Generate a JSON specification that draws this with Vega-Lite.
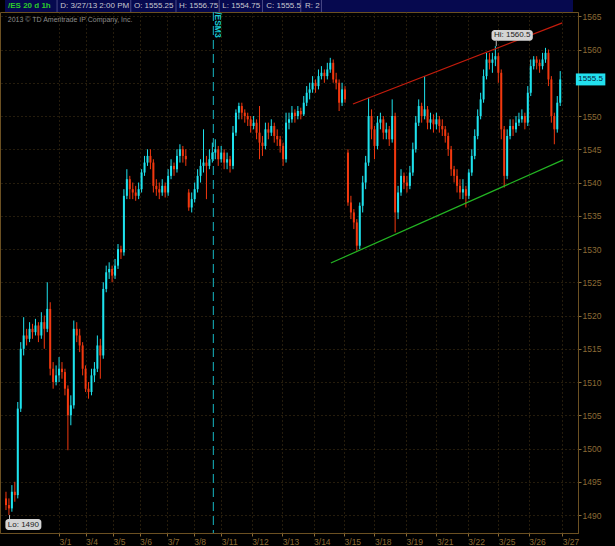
{
  "$schema": "https://vega.github.io/schema/vega-lite/v6.json",
  "width": 578,
  "height": 521,
  "autosize": {"type": "none"},
  "padding": {"left": 0, "top": 12, "right": 37, "bottom": 13},
  "background": "#000000",
  "config": {
    "view": {"stroke": "#6b5022", "strokeWidth": 1},
    "font": "'Liberation Sans', sans-serif",
    "axis": {"labelOverlap": false, "labelBound": false, "labelFlush": false, "title": null}
  },
  "datasets": {
    "bars": [
      {"i":0,"o":1492.5,"h":1493.5,"l":1490.75,"c":1491.5},
      {"i":1,"o":1491.5,"h":1492.5,"l":1490,"c":1491},
      {"i":2,"o":1491,"h":1494.5,"l":1490.5,"c":1493.5},
      {"i":3,"o":1493.5,"h":1495,"l":1492,"c":1493},
      {"i":4,"o":1493,"h":1507,"l":1492.5,"c":1506},
      {"i":5,"o":1506,"h":1516,"l":1505.5,"c":1515},
      {"i":6,"o":1515,"h":1519.75,"l":1514,"c":1517},
      {"i":7,"o":1517,"h":1518,"l":1515.5,"c":1516.5},
      {"i":8,"o":1516.5,"h":1519,"l":1516,"c":1518},
      {"i":9,"o":1518,"h":1518.75,"l":1516.5,"c":1517.5},
      {"i":10,"o":1517.5,"h":1519.5,"l":1517,"c":1518.5},
      {"i":11,"o":1518.5,"h":1519,"l":1516,"c":1517},
      {"i":12,"o":1517,"h":1520.5,"l":1516.5,"c":1519},
      {"i":13,"o":1519,"h":1520,"l":1515,"c":1518},
      {"i":14,"o":1518,"h":1525,"l":1517.5,"c":1521},
      {"i":15,"o":1521,"h":1522,"l":1511,"c":1512},
      {"i":16,"o":1512,"h":1513,"l":1509,"c":1510},
      {"i":17,"o":1510,"h":1512.5,"l":1509.5,"c":1511},
      {"i":18,"o":1511,"h":1513.75,"l":1510,"c":1512},
      {"i":19,"o":1512,"h":1513,"l":1510.5,"c":1511.5},
      {"i":20,"o":1511.5,"h":1512,"l":1508,"c":1509},
      {"i":21,"o":1509,"h":1509.5,"l":1499.75,"c":1505},
      {"i":22,"o":1505,"h":1508,"l":1503.5,"c":1506.5},
      {"i":23,"o":1506.5,"h":1519.25,"l":1506,"c":1518},
      {"i":24,"o":1518,"h":1519,"l":1516,"c":1517},
      {"i":25,"o":1517,"h":1518,"l":1514.5,"c":1515.5},
      {"i":26,"o":1515.5,"h":1516,"l":1511,"c":1512},
      {"i":27,"o":1512,"h":1512.5,"l":1508.5,"c":1509},
      {"i":28,"o":1509,"h":1510,"l":1507.5,"c":1508.5},
      {"i":29,"o":1508.5,"h":1512,"l":1508,"c":1511},
      {"i":30,"o":1511,"h":1513,"l":1510,"c":1512},
      {"i":31,"o":1512,"h":1517,"l":1511.5,"c":1515.5},
      {"i":32,"o":1515.5,"h":1516.5,"l":1510.5,"c":1514},
      {"i":33,"o":1514,"h":1525,"l":1513.5,"c":1524},
      {"i":34,"o":1524,"h":1527.5,"l":1523.5,"c":1526.5},
      {"i":35,"o":1526.5,"h":1528,"l":1525.5,"c":1527},
      {"i":36,"o":1527,"h":1527.5,"l":1525,"c":1526},
      {"i":37,"o":1526,"h":1528.5,"l":1525.5,"c":1527.5},
      {"i":38,"o":1527.5,"h":1530.75,"l":1527,"c":1530},
      {"i":39,"o":1530,"h":1530.5,"l":1528.5,"c":1529.5},
      {"i":40,"o":1529.5,"h":1539,"l":1529,"c":1538},
      {"i":41,"o":1538,"h":1542,"l":1537.5,"c":1540.5},
      {"i":42,"o":1540.5,"h":1541,"l":1537.5,"c":1539},
      {"i":43,"o":1539,"h":1540,"l":1537.5,"c":1538.5},
      {"i":44,"o":1538.5,"h":1539.5,"l":1537.25,"c":1538},
      {"i":45,"o":1538,"h":1540,"l":1537.5,"c":1539},
      {"i":46,"o":1539,"h":1542,"l":1538.5,"c":1541.5},
      {"i":47,"o":1541.5,"h":1544,"l":1541,"c":1543},
      {"i":48,"o":1543,"h":1545,"l":1542.5,"c":1544},
      {"i":49,"o":1544,"h":1545,"l":1542,"c":1543},
      {"i":50,"o":1543,"h":1543.5,"l":1538.5,"c":1539.5},
      {"i":51,"o":1539.5,"h":1540.5,"l":1538,"c":1539},
      {"i":52,"o":1539,"h":1540,"l":1537.5,"c":1538.5},
      {"i":53,"o":1538.5,"h":1540.5,"l":1538,"c":1539.5},
      {"i":54,"o":1539.5,"h":1540,"l":1537.75,"c":1538.5},
      {"i":55,"o":1538.5,"h":1542,"l":1538,"c":1541},
      {"i":56,"o":1541,"h":1543.5,"l":1540.5,"c":1542.5},
      {"i":57,"o":1542.5,"h":1543,"l":1541,"c":1542},
      {"i":58,"o":1542,"h":1545,"l":1541.5,"c":1544},
      {"i":59,"o":1544,"h":1545.75,"l":1543,"c":1545},
      {"i":60,"o":1545,"h":1545.5,"l":1543,"c":1544},
      {"i":61,"o":1544,"h":1545,"l":1542.5,"c":1543.5},
      {"i":62,"o":1538.5,"h":1539,"l":1535.75,"c":1536.25},
      {"i":63,"o":1536.25,"h":1538.5,"l":1535.5,"c":1537.5},
      {"i":64,"o":1537.5,"h":1540,"l":1537,"c":1539},
      {"i":65,"o":1539,"h":1542,"l":1538.5,"c":1541},
      {"i":66,"o":1541,"h":1543.5,"l":1540,"c":1542.5},
      {"i":67,"o":1542.5,"h":1548,"l":1541.5,"c":1543},
      {"i":68,"o":1543,"h":1544,"l":1537.5,"c":1542.5},
      {"i":69,"o":1542.5,"h":1545,"l":1542,"c":1543.5},
      {"i":70,"o":1543.5,"h":1546,"l":1543,"c":1544.5},
      {"i":71,"o":1544.5,"h":1546.5,"l":1543.5,"c":1545},
      {"i":72,"o":1545,"h":1545.5,"l":1542.5,"c":1543.5},
      {"i":73,"o":1543.5,"h":1545.5,"l":1543,"c":1544.5},
      {"i":74,"o":1544.5,"h":1545,"l":1542,"c":1543},
      {"i":75,"o":1543,"h":1544.5,"l":1542,"c":1543.5},
      {"i":76,"o":1543.5,"h":1544,"l":1541.5,"c":1542.5},
      {"i":77,"o":1542.5,"h":1548.5,"l":1542,"c":1547.5},
      {"i":78,"o":1547.5,"h":1551,"l":1547,"c":1550.5},
      {"i":79,"o":1550.5,"h":1552,"l":1549.5,"c":1551.5},
      {"i":80,"o":1551.5,"h":1552,"l":1549.5,"c":1550.5},
      {"i":81,"o":1550.5,"h":1551,"l":1549,"c":1550},
      {"i":82,"o":1550,"h":1550.5,"l":1548.5,"c":1549.5},
      {"i":83,"o":1549.5,"h":1550,"l":1547.5,"c":1548.5},
      {"i":84,"o":1548.5,"h":1550,"l":1548,"c":1549},
      {"i":85,"o":1549,"h":1549.5,"l":1546.5,"c":1547.5},
      {"i":86,"o":1547.5,"h":1551.5,"l":1543.5,"c":1546},
      {"i":87,"o":1546,"h":1547,"l":1544,"c":1545.5},
      {"i":88,"o":1545.5,"h":1549,"l":1545,"c":1548},
      {"i":89,"o":1548,"h":1549,"l":1546.5,"c":1547.5},
      {"i":90,"o":1547.5,"h":1549.5,"l":1547,"c":1548.5},
      {"i":91,"o":1548.5,"h":1549,"l":1546,"c":1547},
      {"i":92,"o":1547,"h":1548,"l":1545.5,"c":1546.5},
      {"i":93,"o":1546.5,"h":1547,"l":1544.5,"c":1545.5},
      {"i":94,"o":1545.5,"h":1546,"l":1542.5,"c":1543.5},
      {"i":95,"o":1543.5,"h":1550.5,"l":1543,"c":1549},
      {"i":96,"o":1549,"h":1550.5,"l":1548,"c":1549.5},
      {"i":97,"o":1549.5,"h":1551.5,"l":1549,"c":1550.5},
      {"i":98,"o":1550.5,"h":1551,"l":1549,"c":1550},
      {"i":99,"o":1550,"h":1551.5,"l":1549.5,"c":1550.75},
      {"i":100,"o":1550.75,"h":1551.25,"l":1549.5,"c":1550.25},
      {"i":101,"o":1550.25,"h":1553,"l":1550,"c":1552},
      {"i":102,"o":1552,"h":1554.5,"l":1551.5,"c":1553.5},
      {"i":103,"o":1553.5,"h":1555,"l":1552.5,"c":1554},
      {"i":104,"o":1554,"h":1556,"l":1553.5,"c":1555},
      {"i":105,"o":1555,"h":1555.5,"l":1553.5,"c":1554.5},
      {"i":106,"o":1554.5,"h":1557,"l":1554,"c":1556},
      {"i":107,"o":1556,"h":1557.5,"l":1555.5,"c":1556.5},
      {"i":108,"o":1556.5,"h":1557,"l":1555,"c":1556},
      {"i":109,"o":1556,"h":1558,"l":1555.5,"c":1557},
      {"i":110,"o":1557,"h":1558.75,"l":1556.5,"c":1558},
      {"i":111,"o":1558,"h":1558.5,"l":1555,"c":1555.5},
      {"i":112,"o":1555.5,"h":1556.5,"l":1554,"c":1555},
      {"i":113,"o":1555,"h":1555.5,"l":1550.75,"c":1552},
      {"i":114,"o":1552,"h":1555,"l":1551.5,"c":1554},
      {"i":115,"o":1554,"h":1554.5,"l":1552,"c":1552.5},
      {"i":116,"o":1544.5,"h":1545,"l":1536.5,"c":1537},
      {"i":117,"o":1537,"h":1538,"l":1534.5,"c":1535.5},
      {"i":118,"o":1535.5,"h":1536,"l":1533,"c":1534},
      {"i":119,"o":1534,"h":1534.5,"l":1529.75,"c":1530.5},
      {"i":120,"o":1530.5,"h":1537,"l":1530,"c":1536.5},
      {"i":121,"o":1536.5,"h":1541,"l":1535.5,"c":1540},
      {"i":122,"o":1540,"h":1544,"l":1539,"c":1543},
      {"i":123,"o":1543,"h":1552.75,"l":1542.5,"c":1550},
      {"i":124,"o":1550,"h":1551,"l":1546.5,"c":1548},
      {"i":125,"o":1548,"h":1548.5,"l":1543.5,"c":1545.5},
      {"i":126,"o":1545.5,"h":1550,"l":1545,"c":1549},
      {"i":127,"o":1549,"h":1550.5,"l":1548,"c":1549.5},
      {"i":128,"o":1549.5,"h":1550,"l":1546.5,"c":1547.5},
      {"i":129,"o":1547.5,"h":1549,"l":1546.5,"c":1548},
      {"i":130,"o":1548,"h":1548.5,"l":1545.5,"c":1546.5},
      {"i":131,"o":1546.5,"h":1552.5,"l":1546,"c":1550},
      {"i":132,"o":1550,"h":1550.5,"l":1532.5,"c":1535.5},
      {"i":133,"o":1535.5,"h":1539.5,"l":1534.5,"c":1538.5},
      {"i":134,"o":1538.5,"h":1542,"l":1538,"c":1541},
      {"i":135,"o":1541,"h":1541.5,"l":1539,"c":1540},
      {"i":136,"o":1540,"h":1541,"l":1538.5,"c":1539.5},
      {"i":137,"o":1539.5,"h":1542.5,"l":1539,"c":1541.5},
      {"i":138,"o":1541.5,"h":1546,"l":1541,"c":1545},
      {"i":139,"o":1545,"h":1550,"l":1544.5,"c":1549},
      {"i":140,"o":1549,"h":1552.5,"l":1548.5,"c":1551.5},
      {"i":141,"o":1551.5,"h":1552,"l":1549,"c":1550},
      {"i":142,"o":1550,"h":1556,"l":1549.5,"c":1551},
      {"i":143,"o":1551,"h":1551.5,"l":1548,"c":1549},
      {"i":144,"o":1549,"h":1550.5,"l":1548,"c":1549.5},
      {"i":145,"o":1549.5,"h":1550.25,"l":1547.5,"c":1548.75},
      {"i":146,"o":1548.75,"h":1550.5,"l":1548,"c":1549.5},
      {"i":147,"o":1549.5,"h":1550,"l":1547.5,"c":1548.5},
      {"i":148,"o":1548.5,"h":1549.5,"l":1547,"c":1548},
      {"i":149,"o":1548,"h":1548.5,"l":1546,"c":1547},
      {"i":150,"o":1547,"h":1547.5,"l":1544,"c":1545},
      {"i":151,"o":1545,"h":1545.5,"l":1541,"c":1542},
      {"i":152,"o":1542,"h":1542.5,"l":1540,"c":1541},
      {"i":153,"o":1541,"h":1542,"l":1538.5,"c":1539.5},
      {"i":154,"o":1539.5,"h":1540.5,"l":1537.5,"c":1538.5},
      {"i":155,"o":1538.5,"h":1540.5,"l":1537.5,"c":1539},
      {"i":156,"o":1539,"h":1539.5,"l":1536.25,"c":1538},
      {"i":157,"o":1538,"h":1542,"l":1537.5,"c":1541.5},
      {"i":158,"o":1541.5,"h":1545,"l":1541,"c":1544},
      {"i":159,"o":1544,"h":1548,"l":1543.5,"c":1547},
      {"i":160,"o":1547,"h":1551,"l":1546.5,"c":1550},
      {"i":161,"o":1550,"h":1553.5,"l":1549.5,"c":1552.5},
      {"i":162,"o":1552.5,"h":1557,"l":1552,"c":1556},
      {"i":163,"o":1556,"h":1559.5,"l":1555.5,"c":1558.5},
      {"i":164,"o":1558.5,"h":1559.5,"l":1557,"c":1558},
      {"i":165,"o":1558,"h":1559.5,"l":1556.5,"c":1558.5},
      {"i":166,"o":1558.5,"h":1560.5,"l":1557.5,"c":1559},
      {"i":167,"o":1559,"h":1559.5,"l":1555,"c":1556.5},
      {"i":168,"o":1556.5,"h":1557,"l":1546.5,"c":1548},
      {"i":169,"o":1548,"h":1548.5,"l":1539.25,"c":1541},
      {"i":170,"o":1541,"h":1548,"l":1540.5,"c":1547},
      {"i":171,"o":1547,"h":1549.5,"l":1546.5,"c":1548.5},
      {"i":172,"o":1548.5,"h":1549.5,"l":1547,"c":1548},
      {"i":173,"o":1548,"h":1550,"l":1547.5,"c":1549},
      {"i":174,"o":1549,"h":1550.5,"l":1548.5,"c":1549.5},
      {"i":175,"o":1549.5,"h":1551,"l":1549,"c":1550},
      {"i":176,"o":1550,"h":1550.5,"l":1548,"c":1549},
      {"i":177,"o":1549,"h":1554.5,"l":1548.5,"c":1553.5},
      {"i":178,"o":1553.5,"h":1558.5,"l":1553,"c":1557.5},
      {"i":179,"o":1557.5,"h":1559,"l":1557,"c":1558.5},
      {"i":180,"o":1558.5,"h":1559,"l":1557,"c":1558},
      {"i":181,"o":1558,"h":1558.5,"l":1556.5,"c":1557.5},
      {"i":182,"o":1557.5,"h":1559.5,"l":1557,"c":1558.5},
      {"i":183,"o":1558.5,"h":1560.25,"l":1558,"c":1559.5},
      {"i":184,"o":1559.5,"h":1560,"l":1554.5,"c":1555.5},
      {"i":185,"o":1555.5,"h":1556,"l":1549,"c":1550},
      {"i":186,"o":1550,"h":1550.5,"l":1545.75,"c":1548},
      {"i":187,"o":1548,"h":1553,"l":1547.5,"c":1552},
      {"i":188,"o":1552,"h":1556.75,"l":1551.5,"c":1555.5}
    ],
    "trend": [
      {"g":"r","i":117.7,"p":1551.8},
      {"g":"r","i":188.7,"p":1564.0},
      {"g":"s","i":110.2,"p":1527.9},
      {"g":"s","i":189.0,"p":1543.4}
    ],
    "one": [{}]
  },
  "data": {"name": "bars"},
  "layer": [
    {
      "mark": {"type": "rule", "strokeWidth": 1},
      "encoding": {
        "x": {
          "field": "i", "type": "quantitative",
          "scale": {"domain": [-0.333, 192.333], "nice": false, "zero": false},
          "axis": {
            "title": null,
            "tickCount": 60,
            "values": [18, 27, 36.33, 45.33, 54.67, 63.67, 73, 83.33, 93.67, 104.33, 114.67, 125, 135.67, 146, 156.67, 167, 177.33, 188.67],
            "labelExpr": "['3/1','3/4','3/5','3/6','3/7','3/8','3/11','3/12','3/13','3/14','3/15','3/18','3/19','3/21','3/22','3/25','3/26','3/27'][indexof([18, 27, 36.33, 45.33, 54.67, 63.67, 73, 83.33, 93.67, 104.33, 114.67, 125, 135.67, 146, 156.67, 167, 177.33, 188.67], datum.value)]",
            "grid": true, "gridColor": "#4a3818", "gridDash": [1, 3], "gridOpacity": 1,
            "tickColor": "#8c6b35", "tickSize": 3,
            "labelColor": "#8c6b35", "labelFontSize": 8.5, "labelAlign": "left", "labelPadding": 1,
            "labelOverlap": false, "labelBound": false, "labelFlush": false,
            "domainColor": "#6b5022"
          }
        },
        "y": {
          "field": "l", "type": "quantitative",
          "scale": {"domain": [1487.3, 1565.64], "nice": false, "zero": false},
          "axis": {
            "title": null, "orient": "right",
            "tickCount": 60,
            "values": [1490, 1495, 1500, 1505, 1510, 1515, 1520, 1525, 1530, 1535, 1540, 1545, 1550, 1555, 1560, 1565],
            "format": "d",
            "labelExpr": "datum.value == 1555 ? '' : datum.label",
            "grid": true, "gridColor": "#4a3818", "gridDash": [1, 3], "gridOpacity": 1,
            "tickColor": "#8c6b35", "tickSize": 3,
            "labelColor": "#8c6b35", "labelFontSize": 8.5, "labelPadding": 1,
            "labelOverlap": false, "labelBound": false, "labelFlush": false,
            "domainColor": "#6b5022"
          }
        },
        "y2": {"field": "h"},
        "color": {"condition": {"test": "datum.c >= datum.o", "value": "#1ee3ee"}, "value": "#f2380f"}
      }
    },
    {
      "mark": {"type": "bar", "size": 2},
      "encoding": {
        "x": {"field": "i", "type": "quantitative"},
        "y": {"field": "o", "type": "quantitative"},
        "y2": {"field": "c"},
        "color": {"condition": {"test": "datum.c >= datum.o", "value": "#1ee3ee"}, "value": "#f2380f"}
      }
    },
    {
      "data": {"name": "trend"},
      "mark": {"type": "line", "strokeWidth": 1.2},
      "encoding": {
        "x": {"field": "i", "type": "quantitative"},
        "y": {"field": "p", "type": "quantitative"},
        "color": {"field": "g", "type": "nominal", "scale": {"domain": ["r", "s"], "range": ["#c41c0c", "#23b523"]}, "legend": null}
      }
    },
    {
      "data": {"name": "one"},
      "layer": [
        {
          "mark": {"type": "rule", "color": "#16b8c4", "strokeDash": [9, 5], "strokeWidth": 1},
          "encoding": {"x": {"datum": 70.33, "type": "quantitative"}}
        },
        {
          "mark": {"type": "text", "angle": 90, "align": "center", "baseline": "middle", "color": "#19c8d2", "fontSize": 8.5, "fontWeight": "bold"},
          "encoding": {"x": {"datum": 71.8, "type": "quantitative"}, "y": {"datum": 1563.7, "type": "quantitative"}, "text": {"value": "/ESM3"}}
        },
        {
          "mark": {"type": "text", "align": "left", "baseline": "middle", "color": "#8c8c8c", "fontSize": 7},
          "encoding": {"x": {"datum": 0.6, "type": "quantitative"}, "y": {"datum": 1564.4, "type": "quantitative"}, "text": {"value": "2013 © TD Ameritrade IP Company, Inc."}}
        },
        {
          "mark": {"type": "rect", "color": "#06094f"},
          "encoding": {"x": {"datum": -0.333, "type": "quantitative"}, "x2": {"datum": 192.333}, "y": {"datum": 1565.64, "type": "quantitative"}, "y2": {"datum": 1567.45}}
        },
        {"mark": {"type": "rule", "color": "#4a4a86"}, "encoding": {"x": {"datum": 17.33, "type": "quantitative"}, "y": {"datum": 1565.64, "type": "quantitative"}, "y2": {"datum": 1567.45}}},
        {"mark": {"type": "rule", "color": "#4a4a86"}, "encoding": {"x": {"datum": 42.33, "type": "quantitative"}, "y": {"datum": 1565.64, "type": "quantitative"}, "y2": {"datum": 1567.45}}},
        {"mark": {"type": "rule", "color": "#4a4a86"}, "encoding": {"x": {"datum": 57.67, "type": "quantitative"}, "y": {"datum": 1565.64, "type": "quantitative"}, "y2": {"datum": 1567.45}}},
        {"mark": {"type": "rule", "color": "#4a4a86"}, "encoding": {"x": {"datum": 72.33, "type": "quantitative"}, "y": {"datum": 1565.64, "type": "quantitative"}, "y2": {"datum": 1567.45}}},
        {"mark": {"type": "rule", "color": "#4a4a86"}, "encoding": {"x": {"datum": 87, "type": "quantitative"}, "y": {"datum": 1565.64, "type": "quantitative"}, "y2": {"datum": 1567.45}}},
        {"mark": {"type": "rule", "color": "#4a4a86"}, "encoding": {"x": {"datum": 100, "type": "quantitative"}, "y": {"datum": 1565.64, "type": "quantitative"}, "y2": {"datum": 1567.45}}},
        {"mark": {"type": "rule", "color": "#4a4a86"}, "encoding": {"x": {"datum": 107, "type": "quantitative"}, "y": {"datum": 1565.64, "type": "quantitative"}, "y2": {"datum": 1567.45}}},
        {
          "mark": {"type": "text", "align": "left", "baseline": "middle", "color": "#2ccc2c", "fontSize": 8, "fontWeight": "bold"},
          "encoding": {"x": {"datum": 0.7, "type": "quantitative"}, "y": {"datum": 1566.55, "type": "quantitative"}, "text": {"value": "/ES 20 d 1h"}}
        },
        {
          "mark": {"type": "text", "align": "left", "baseline": "middle", "color": "#c8c8d0", "fontSize": 8},
          "encoding": {"x": {"datum": 18.4, "type": "quantitative"}, "y": {"datum": 1566.55, "type": "quantitative"}, "text": {"value": "D: 3/27/13 2:00 PM"}}
        },
        {
          "mark": {"type": "text", "align": "left", "baseline": "middle", "color": "#c8c8d0", "fontSize": 8},
          "encoding": {"x": {"datum": 43.4, "type": "quantitative"}, "y": {"datum": 1566.55, "type": "quantitative"}, "text": {"value": "O: 1555.25"}}
        },
        {
          "mark": {"type": "text", "align": "left", "baseline": "middle", "color": "#c8c8d0", "fontSize": 8},
          "encoding": {"x": {"datum": 58.7, "type": "quantitative"}, "y": {"datum": 1566.55, "type": "quantitative"}, "text": {"value": "H: 1556.75"}}
        },
        {
          "mark": {"type": "text", "align": "left", "baseline": "middle", "color": "#c8c8d0", "fontSize": 8},
          "encoding": {"x": {"datum": 73.4, "type": "quantitative"}, "y": {"datum": 1566.55, "type": "quantitative"}, "text": {"value": "L: 1554.75"}}
        },
        {
          "mark": {"type": "text", "align": "left", "baseline": "middle", "color": "#c8c8d0", "fontSize": 8},
          "encoding": {"x": {"datum": 88.3, "type": "quantitative"}, "y": {"datum": 1566.55, "type": "quantitative"}, "text": {"value": "C: 1555.5"}}
        },
        {
          "mark": {"type": "text", "align": "left", "baseline": "middle", "color": "#c8c8d0", "fontSize": 8},
          "encoding": {"x": {"datum": 101.4, "type": "quantitative"}, "y": {"datum": 1566.55, "type": "quantitative"}, "text": {"value": "R: 2"}}
        },
        {
          "mark": {"type": "rule", "color": "#bbbbbb"},
          "encoding": {"x": {"datum": 166.3, "type": "quantitative"}, "y": {"datum": 1561.3, "type": "quantitative"}, "y2": {"datum": 1560.5}}
        },
        {
          "mark": {"type": "rect", "color": "#d4d4d4", "cornerRadius": 3},
          "encoding": {"x": {"datum": 164.7, "type": "quantitative"}, "x2": {"datum": 178.7}, "y": {"datum": 1562.95, "type": "quantitative"}, "y2": {"datum": 1561.3}}
        },
        {
          "mark": {"type": "text", "align": "center", "baseline": "middle", "color": "#1a1a1a", "fontSize": 8},
          "encoding": {"x": {"datum": 171.7, "type": "quantitative"}, "y": {"datum": 1562.12, "type": "quantitative"}, "text": {"value": "Hi: 1560.5"}}
        },
        {
          "mark": {"type": "rule", "color": "#bbbbbb"},
          "encoding": {"x": {"datum": 1.2, "type": "quantitative"}, "y": {"datum": 1490, "type": "quantitative"}, "y2": {"datum": 1489.4}}
        },
        {
          "mark": {"type": "rect", "color": "#d4d4d4", "cornerRadius": 3},
          "encoding": {"x": {"datum": -0.2, "type": "quantitative"}, "x2": {"datum": 12}, "y": {"datum": 1489.4, "type": "quantitative"}, "y2": {"datum": 1487.75}}
        },
        {
          "mark": {"type": "text", "align": "center", "baseline": "middle", "color": "#1a1a1a", "fontSize": 8},
          "encoding": {"x": {"datum": 5.9, "type": "quantitative"}, "y": {"datum": 1488.57, "type": "quantitative"}, "text": {"value": "Lo: 1490"}}
        },
        {
          "mark": {"type": "rect", "color": "#22e0ee"},
          "encoding": {"x": {"datum": 193.3, "type": "quantitative"}, "x2": {"datum": 203.3}, "y": {"datum": 1556.4, "type": "quantitative"}, "y2": {"datum": 1554.6}}
        },
        {
          "mark": {"type": "text", "align": "center", "baseline": "middle", "color": "#06203a", "fontSize": 8},
          "encoding": {"x": {"datum": 198.3, "type": "quantitative"}, "y": {"datum": 1555.5, "type": "quantitative"}, "text": {"value": "1555.5"}}
        }
      ]
    }
  ]
}
